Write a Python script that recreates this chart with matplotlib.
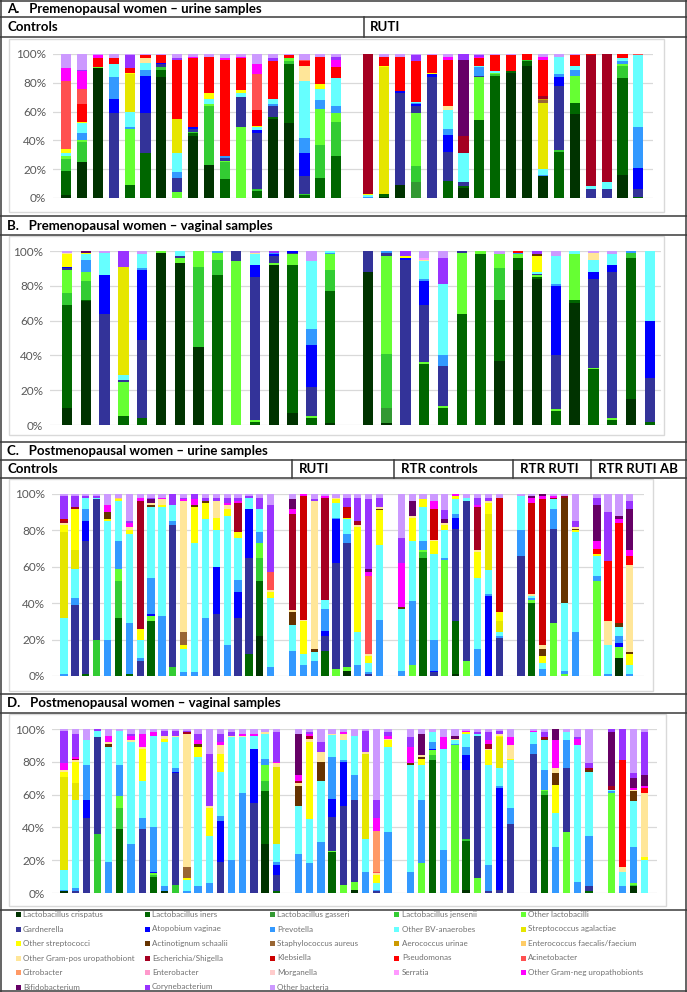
import matplotlib
matplotlib.use("Agg")
import matplotlib.pyplot as plt
from matplotlib.lines import Line2D
from matplotlib.patches import Rectangle

W, H = 687, 992

TAXA = [
    "Lactobacillus crispatus", "Lactobacillus iners", "Lactobacillus gasseri", "Lactobacillus jensenii",
    "Other lactobacilli", "Gardnerella", "Atopobium vaginae", "Prevotella", "Other BV-anaerobes",
    "Streptococcus agalactiae", "Other streptococci", "Actinotignum schaalii", "Staphylococcus aureus",
    "Aerococcus urinae", "Enterococcus faecalis/faecium", "Other Gram-pos uropathobiont",
    "Escherichia/Shigella", "Klebsiella", "Pseudomonas", "Acinetobacter", "Citrobacter", "Enterobacter",
    "Morganella", "Serratia", "Other Gram-neg uropathobionts", "Bifidobacterium", "Corynebacterium",
    "Other bacteria",
]
CODES = ["cri", "ine", "gas", "jen", "olac", "gar", "ato", "pre", "obv", "sag", "ostr", "act", "sau", "aur",
         "ent", "ogp", "eco", "kle", "pse", "aci", "cit", "entb", "mor", "ser", "ogn", "bif", "cor", "oth"]
COLORS = ["#003300", "#006600", "#339933", "#33cc33", "#66ff33", "#333399", "#0000ff", "#3399ff", "#66ffff",
          "#e6e600", "#ffff00", "#663300", "#996633", "#cc9900", "#ffcc66", "#ffe699", "#a50021", "#cc0000",
          "#ff0000", "#ff5050", "#ff9966", "#ff99cc", "#ffcccc", "#ff99ff", "#ff00ff", "#660066", "#9933ff",
          "#cc99ff"]

# relative abundance (%) per sample
A_CONTROLS = [
    "cri2 ine17 jen8 olac2 obv2 ostr3 aci47 ogn9 oth10",
    "cri25 jen14 olac1 pre5 obv7 ostr1 pse12 aci11 ogn12 cor1 oth11",
    "cri90 olac1 pse6 ogn2 oth1",
    "gar59 ato10 pre15 obv9 pse4 oth3",
    "ine9 olac39 pre1 obv11 sag26 ostr1 pse3 cor9 oth1",
    "ine31 gar28 ato26 pre4 obv5 ogp3 pse2 oth1",
    "cri84 ine5 jen2 gar2 ato1 pse5 oth1",
    "olac4 gar10 pre4 obv13 sag24 pse41 cor1 oth3",
    "cri43 ine2 jen1 gar2 ato1 pse48 ogn1 oth2",
    "cri23 jen41 olac1 obv4 ostr4 pse25 oth2",
    "ine13 jen12 olac1 gar2 pre1 pse67 ogn1 oth3",
    "olac49 gar21 obv3 ostr2 pse22 ogn1 oth2",
    "ine5 jen1 gar39 ato2 obv2 ostr1 pse11 aci25 ogn7 oth7",
    "cri55 ine1 gar8 pre1 obv4 pse26 cor2 oth3",
    "cri52 ine41 jen2 olac2 pse2 oth1",
    "ine2 jen1 gar12 ato16 pre11 obv39 ogp11 pse3 aci1 oth4",
    "ine14 jen23 olac25 pre6 obv8 ostr3 pse19 oth2",
    "ine29 jen24 olac6 pre5 obv19 pse8 ogn5 cor2 oth2",
]
A_RUTI = [
    "pre1 obv1 ostr1 eco97",
    "cri1 ine2 sag88 ostr1 pse6 oth2",
    "cri9 gar64 ato1 pse24 oth2",
    "gas11 jen11 olac37 gar5 ato1 pre1 obv1 pse28 cor4 oth1",
    "gar84 ato2 ostr1 pse12 oth1",
    "ine12 gar20 ato12 pre4 obv13 ogp3 pse32 ogn2 oth2",
    "cri7 ine1 gar3 obv20 eco12 bif53 cor4",
    "ine54 olac30 gar1 pre6 obv1 pse5 ogn1 cor1 oth1",
    "ine85 jen1 olac1 obv1 pse11 oth1",
    "cri87 ine1 pse11 oth1",
    "cri92 ine3 jen1 pse4",
    "cri15 pre1 obv4 sag46 sau2 aur1 eco2 pse25 ogn2 oth2",
    "ine32 jen1 gar45 ato6 pre2 obv12 oth2",
    "cri58 ine8 olac19 pre4 obv3 pse7 oth1",
    "gar6 obv2 eco91 pse1",
    "gar6 obv5 eco89",
    "cri16 ine67 jen9 olac1 pre2 obv2 pse3",
    "ine1 gar5 ato15 pre28 obv50 aci1",
]
B_CONTROLS = [
    "cri10 ine59 jen7 olac13 gar1 ato1 ostr7 ogp1 oth1",
    "cri71 ine1 jen11 olac5 pre7 obv3 ostr1 bif1",
    "gar64 ato22 obv13 oth1",
    "ine5 olac20 gar1 obv3 sag62 cor9",
    "ine4 gar45 ato40 pre1 obv8 oth2",
    "cri99 olac1",
    "cri93 olac3 gar1 obv3",
    "cri45 jen46 olac9",
    "ine86 jen9 olac4 pre1",
    "olac94 gar6",
    "ine2 olac1 gar82 ato7 obv6 ogp1 oth1",
    "cri92 olac1 gar4 ato1 pre1 cor1",
    "cri7 ine85 olac6 gar1 ato1",
    "ine4 olac1 gar17 ato24 pre9 obv39 oth6",
    "cri1 ine76 jen12 olac9 pre1 obv1",
]
B_RUTI = [
    "cri88 gar12",
    "cri1 gas9 jen31 olac56 gar2 pre1",
    "gar95 ato1 ostr1 cor3",
    "ine35 olac1 gar33 ato14 pre1 obv10 ogp1 ser1 oth4",
    "ine10 olac1 gar23 pre6 obv41 cor15 oth4",
    "ine64 olac35 gar1",
    "ine98 olac2",
    "cri37 ine35 jen18 olac8 oth2",
    "cri89 ine7 olac2 pre1 pse1",
    "cri84 ine1 olac1 gar1 obv1 ostr9 act1 cor2",
    "ine8 olac1 gar31 ato40 pre1 obv16 oth3",
    "cri70 ine2 olac26 obv2",
    "ine32 olac1 gar51 ato4 obv7 ogp4 oth1",
    "ine3 olac1 gar84 ato4 obv6 oth2",
    "cri15 ine81 jen3 pre1",
    "ine2 gar25 ato33 obv40",
]
C_CONTROLS = [
    "pre1 obv31 sag47 ostr4 ogp1 eco1 kle1 cor13 oth1",
    "gar39 pre4 obv16 sag10 ostr23 eco1 cor6 oth1",
    "ine1 gar73 ato11 pre7 obv6 cor1 oth1",
    "jen20 gar77 obv1 cor1 oth1",
    "pre20 obv65 ostr1 act4 ogn4 oth6",
    "ine32 jen20 olac7 pre15 obv22 ostr1 ent1 oth2",
    "ine1 pre28 obv49 ostr2 ogp2 ogn2 cor1 oth15",
    "gar8 pre2 obv10 ostr6 eco70 ogn2 oth2",
    "ine30 olac3 ato1 pre20 obv39 act1 ogp1 bif2 cor1 oth2",
    "pre33 obv60 ostr1 ogp3 ogn1 oth2",
    "jen5 gar78 pre2 obv9 cor6",
    "pre2 obv13 ostr2 sau7 ogp72 ogn1 cor1 oth2",
    "pre2 obv71 ostr20 act1 ogn3 cor3",
    "pre32 obv54 ostr9 act1 cor2 oth2",
    "gar34 ato26 obv20 ostr7 ogp9 cor2 oth2",
    "pre17 obv71 ostr4 ogp2 ogn1 cor3 oth2",
    "gar32 ato14 pre7 obv23 ostr3 eco16 ogn1 cor2 oth2",
    "ine12 gar53 ato27 obv6 cor1 oth1",
    "cri22 ine30 jen13 olac8 pre6 obv13 cor6 oth2",
    "pre5 obv38 ostr3 ogp1 aci10 cor37 oth6",
]
C_RUTI = [
    "pre14 obv14 act7 ogp1 eco53 ogn3 bif5 oth3",
    "pre6 obv6 ostr18 ogp1 kle68 ogn1",
    "pre8 obv5 act2 ogp81 cor1 oth3",
    "ine14 gar8 ato3 pre12 obv5 eco56 ogn1 oth1",
    "olac4 gar58 ato24 pre1 obv8 ostr2 ogp1 oth2",
    "cri3 olac2 gar68 pre5 obv8 ostr1 kle6 cor5 oth2",
    "pre6 obv18 ostr58 ogp1 eco2 cor13 oth2",
    "pre1 gar1 obv5 ostr4 ogp1 aci43 ogn2 bif2 cor38 oth3",
    "pre31 obv41 ostr19 act1 ogp1 cor5 oth2",
]
C_RTR_CONTROLS = [
    "pre3 obv34 act1 ogn24 cor14 oth24",
    "olac6 pre35 obv33 ostr13 ogp1 bif8 oth4",
    "ine65 jen3 olac1 pre5 obv19 ostr4 oth3",
    "gar2 ato1 pre17 obv47 ostr7 ogp1 kle17 ogn4 oth4",
    "olac64 pre1 obv15 ostr3 ogp1 bif2 cor5 oth9",
    "cri1 ine29 gar51 ato6 pre2 obv8 ostr2 ogn1",
    "olac8 gar88 obv2 oth2",
    "pre15 obv39 ostr14 ogp1 eco24 ogn1 cor4 oth2",
    "ato44 pre1 obv13 sag31 ostr6 ogp1 cor2 oth2",
    "gar21 pre1 obv2 sag6 ostr5 kle63 oth2",
]
C_RTR_RUTI = [
    "gar66 pre14 obv19 oth1",
    "ine40 olac2 pre1 obv1 ogp1 kle50 ogn3 bif1 oth1",
    "pre4 obv3 ostr4 act4 ogp2 kle80 ogn2 bif1",
    "olac29 gar52 pre11 obv5 eco1 ogn1 oth1",
    "olac1 pre2 obv37 act58 eco1 oth1",
    "pre24 obv55 ostr1 act1 ogp1 cor3 oth15",
]
C_RTR_RUTI_AB = [
    "olac52 pre3 obv11 ostr1 pse3 ogn4 bif20 cor4 oth2",
    "pre1 obv16 ogp13 pse33 cor27 oth10",
    "cri10 olac6 ato2 pre4 obv5 act2 pse55 ogn2 bif2 oth12",
    "pre1 obv5 ostr6 act1 ogp48 pse5 ogn3 bif23 cor4 oth4",
]
D_CONTROLS = [
    "cri1 pre1 obv12 sag57 ostr3 ogp1 ogn4 cor20 oth1",
    "gar1 pre2 obv54 sag10 ostr13 ogp1 eco1 ogn1 cor14 oth3",
    "gar46 ato11 pre21 obv15 oth7",
    "jen36 gar59 obv4 cor1",
    "pre19 obv70 act2 ogp1 ogn4 oth4",
    "ine39 jen13 olac7 pre19 obv21 oth1",
    "pre30 obv62 ogp1 ogn3 cor1 oth3",
    "gar39 pre7 obv22 ostr20 ogp1 ogn8 oth3",
    "ine10 jen1 olac1 ato1 pre27 obv56 ogn2 oth2",
    "cri1 pre3 obv88 ostr2 ogp2 cor3 oth1",
    "jen5 gar68 ato1 pre2 obv19 ogp1 cor3 oth1",
    "pre1 obv7 ostr1 sau7 ogp81 eco1 cor1 oth1",
    "pre4 obv79 ostr6 act2 ogn2 cor4 oth3",
    "pre6 obv29 ostr17 ogp1 cor32 oth15",
    "gar19 ato25 pre3 obv27 ostr11 ogp5 ogn2 cor5 oth3",
    "pre20 obv75 ogp1 cor2 oth2",
    "pre61 obv34 ogp1 ogn1 oth3",
    "gar55 ato33 obv8 ogn1 oth3",
    "cri30 ine32 jen6 olac10 pre4 obv15 ogp1 oth2",
    "ine1 gar10 ato6 pre2 obv11 sag47 ogp2 ogn1 cor18 oth2",
]
D_RUTI = [
    "pre24 obv29 act12 ogp2 eco1 ogn4 bif25 oth3",
    "pre18 obv27 ostr47 ogp2 eco2 ogn1 cor1 oth2",
    "pre31 obv37 act12 ogp6 cor6 oth8",
    "ine25 olac1 gar21 ato11 pre26 obv13 ogp1 oth3",
    "olac5 gar48 ato27 pre1 obv12 ogp4 ogn1 oth2",
    "cri2 olac5 gar50 pre15 obv24 oth4",
    "pre13 obv20 sag52 ogp1 cor13 oth1",
    "gar1 pre1 obv4 ostr5 ogp1 aci1 cit25 ogn8 cor11 oth43",
    "pre37 obv52 ostr4 ogp1 ogn2 cor2 oth2",
]
D_RTR_CONTROLS = [
    "pre13 obv65 act1 ogn10 cor6 oth5",
    "olac18 pre39 obv21 ostr4 act1 ogp1 bif13 oth3",
    "ine81 jen3 olac3 ato1 pre4 obv6 oth2",
    "pre26 obv62 ogn7 oth5",
    "olac90 pre1 obv2 ogp1 bif2 oth4",
    "cri2 ine30 jen1 gar42 ato9 pre5 obv8 ostr1 ogn1 oth1",
    "olac9 gar87 obv1 cor1 oth2",
    "gar1 pre16 obv61 ostr9 ogp1 eco3 ogn2 cor5 oth2",
    "gar2 ato62 pre1 obv11 sag19 ostr1 ogp1 cor2 oth1",
    "gar42 pre10 obv29 ostr1 ogp8 ogn5 oth5",
]
D_RTR_RUTI = [
    "gar85 pre6 obv7 ogn1 oth1",
    "ine60 jen2 olac1 pre12 obv18 act1 eco1 cor3 oth2",
    "pre28 obv21 ostr17 act7 ogp3 ogn17 bif7",
    "olac37 gar39 pre17 obv5 oth2",
    "pre7 obv83 ogn4 cor1 oth5",
    "ine1 gar3 pre31 obv39 act1 eco1 cor3 oth21",
]
D_RTR_RUTI_AB = [
    "olac61 pre1 obv1 eco2 bif33 cor2",
    "pre4 obv9 ogp3 pse65 cor19",
    "cri4 jen1 olac1 pre22 obv28 act6 ogp1 ogn1 bif6 cor3 oth27",
    "obv20 ostr2 ogp39 pse3 ogn1 bif7 cor26 oth2",
]

plt.rcParams["font.family"] = ["Lato", "DejaVu Sans"]
LINE = "#3a3a3a"
GRID = "#d9d9d9"
TXT = "#595959"


def parse(sample):
    vals = {}
    for tok in sample.split():
        code = tok.rstrip("0123456789.")
        vals[code] = float(tok[len(code):])
    total = sum(vals.values())
    return {k: v / total for k, v in vals.items()}


def fx(x):
    return x / W


def fy(y):
    return 1 - y / H


def hline(fig, x0, x1, y, color=LINE, lw=1.1):
    fig.add_artist(Line2D([fx(x0), fx(x1)], [fy(y), fy(y)], color=color, lw=lw))


def vline(fig, x, y0, y1, color=LINE, lw=1.1):
    fig.add_artist(Line2D([fx(x), fx(x)], [fy(y0), fy(y1)], color=color, lw=lw))


def stacked_panel(fig, groups, c0, step, width, box, y100, y0):
    # groups are separated by one empty slot
    samples = []
    for i, g in enumerate(groups):
        if i:
            samples.append(None)
        samples.extend(parse(s) for s in g)
    x_left, x_right = box
    ax = fig.add_axes([fx(x_left), fy(y0), (x_right - x_left) / W, (y0 - y100) / H])
    pos = [i for i, s in enumerate(samples) if s is not None]
    data = [s for s in samples if s is not None]
    bottom = [0.0] * len(data)
    for code, color in zip(CODES, COLORS):
        h = [d.get(code, 0.0) for d in data]
        if any(h):
            ax.bar(pos, h, width=width, bottom=bottom, color=color, linewidth=0)
            bottom = [b + v for b, v in zip(bottom, h)]
    ax.set_xlim(-(c0 - x_left) / step, (x_right - c0) / step)
    ax.set_ylim(0, 1)
    ax.set_yticks([0, 0.2, 0.4, 0.6, 0.8, 1.0])
    ax.set_yticklabels(["0%", "20%", "40%", "60%", "80%", "100%"])
    ax.set_xticks([])
    ax.tick_params(axis="y", length=0, pad=5, labelsize=8.5, labelcolor=TXT)
    ax.grid(axis="y", color=GRID, lw=0.9)
    ax.set_axisbelow(True)
    for sp in ax.spines.values():
        sp.set_visible(False)
    ax.set_facecolor("none")
    return ax


fig = plt.figure(figsize=(W / 100, H / 100), dpi=100)

# outer frame and row separators
vline(fig, 0.6, 0, H)
vline(fig, 686.4, 0, H)
for y in [0.6, 17, 37, 216, 235, 442, 460, 478, 694, 713, 910, 991.4]:
    hline(fig, 0, W, y)
vline(fig, 364, 17, 37)
for x in [292, 394, 513, 591]:
    vline(fig, x, 460, 478)

# chart-area frames
for (x0, x1, y0, y1) in [(9, 664, 39, 212), (9, 664, 236, 435), (9, 653, 479, 691), (9, 666, 714, 906)]:
    fig.add_artist(Rectangle((fx(x0), fy(y1)), (x1 - x0) / W, (y1 - y0) / H, transform=fig.transFigure,
                             fill=False, edgecolor=GRID, lw=1.0))

head = dict(fontsize=9.5, fontweight="bold", va="center", ha="left", color="black")
fig.text(fx(7), fy(9), "A.   Premenopausal women \u2013 urine samples", **head)
fig.text(fx(7), fy(27), "Controls", **head)
fig.text(fx(370), fy(27), "RUTI", **head)
fig.text(fx(7), fy(226), "B.   Premenopausal women \u2013 vaginal samples", **head)
fig.text(fx(7), fy(451), "C.   Postmenopausal women \u2013 urine samples", **head)
fig.text(fx(7), fy(469), "Controls", **head)
fig.text(fx(299), fy(469), "RUTI", **head)
fig.text(fx(401), fy(469), "RTR controls", **head)
fig.text(fx(520), fy(469), "RTR RUTI", **head)
fig.text(fx(598), fy(469), "RTR RUTI AB", **head)
fig.text(fx(7), fy(703), "D.   Postmenopausal women \u2013 vaginal samples", **head)

stacked_panel(fig, [A_CONTROLS, A_RUTI], 66, 15.9, 0.63, (53, 653), 54, 198)
stacked_panel(fig, [B_CONTROLS, B_RUTI], 67, 18.8, 0.56, (50, 661), 251, 425)
stacked_panel(fig, [C_CONTROLS, C_RUTI, C_RTR_CONTROLS, C_RTR_RUTI, C_RTR_RUTI_AB],
              64, 10.88, 0.67, (52, 644), 494, 676)
stacked_panel(fig, [D_CONTROLS, D_RUTI, D_RTR_CONTROLS, D_RTR_RUTI, D_RTR_RUTI_AB],
              64, 11.17, 0.65, (52, 657), 729, 893)

# legend, 5 columns, row-major in stacking order
col_x = [18, 147, 272, 397, 523]
row_y = [914.5, 929, 943.5, 958, 972.5, 987]
for i, (name, color) in enumerate(zip(TAXA, COLORS)):
    r, c = divmod(i, 5)
    x, y = col_x[c], row_y[r]
    fig.add_artist(Rectangle((fx(x - 2.5), fy(y + 2.5)), 5 / W, 5 / H, transform=fig.transFigure,
                             facecolor=color, edgecolor="none"))
    fig.text(fx(x + 5), fy(y), name, fontsize=5.8, color="#707070", va="center", ha="left")

fig.savefig("out.png", dpi=100)
plt.close(fig)
